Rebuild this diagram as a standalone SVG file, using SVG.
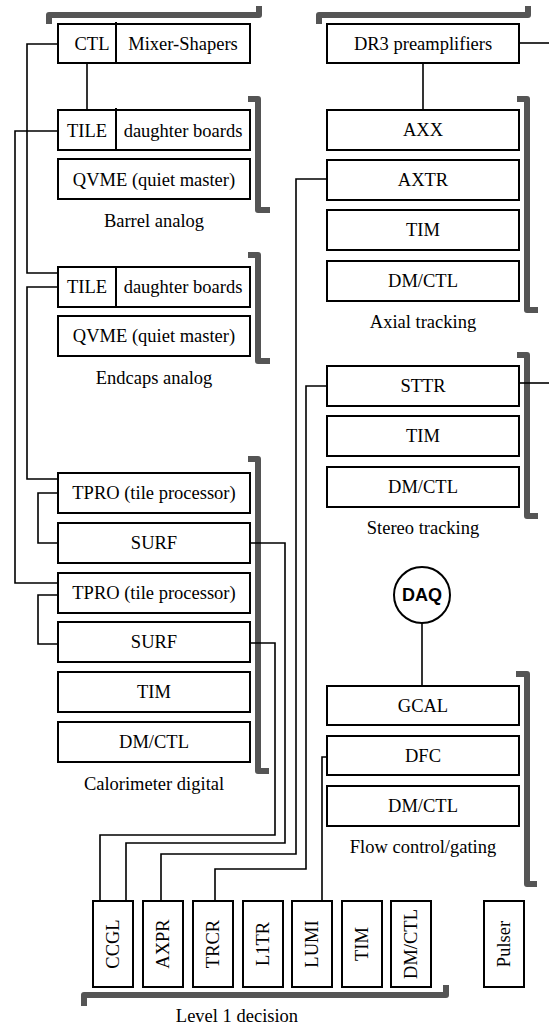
<svg xmlns="http://www.w3.org/2000/svg" width="549" height="1028" viewBox="0 0 549 1028">
<style>
.b{fill:#fff;stroke:#000;stroke-width:2}
.d{stroke:#000;stroke-width:2}
.t{font-family:"Liberation Serif","Times New Roman",serif;font-size:18.5px;fill:#000;text-anchor:middle}
.c{fill:none;stroke:#000;stroke-width:1.6}
.k{fill:none;stroke:#555;stroke-width:6;stroke-linejoin:round}
.q{font-family:"Liberation Sans",Arial,sans-serif;font-size:18px;font-weight:bold;fill:#000;text-anchor:middle}
</style>
<rect width="549" height="1028" fill="#fff"/>
<g id="brackets">
<polyline class="k" points="49,24 49,15 259,15 259,6"/>
<polyline class="k" points="319,24 319,15 528,15 528,6"/>
<polyline class="k" points="248,99 258,99 258,210 270,210"/>
<polyline class="k" points="248,255 258,255 258,361 270,361"/>
<polyline class="k" points="248,459 258,459 258,771 269,771"/>
<polyline class="k" points="517,99 527,99 527,310 538,310"/>
<polyline class="k" points="517,355 527,355 527,516 538,516"/>
<polyline class="k" points="516,674 527,674 527,884 537,884"/>
<polyline class="k" points="84,1006 84,995 446,995 446,985"/>
</g>
<g id="connectors">
<polyline class="c" points="58,44 27,44 27,273 58,273"/>
<polyline class="c" points="58,131 15,131 15,583 58,583"/>
<polyline class="c" points="58,287 27,287 27,479 58,479"/>
<polyline class="c" points="58,493 38,493 38,543 58,543"/>
<polyline class="c" points="58,595 38,595 38,644 58,644"/>
<line class="c" x1="87" y1="63" x2="87" y2="110"/>
<line class="c" x1="423" y1="63" x2="423" y2="110"/>
<line class="c" x1="519" y1="43" x2="549" y2="43"/>
<line class="c" x1="519" y1="383" x2="549" y2="383"/>
<line class="c" x1="422" y1="623" x2="422" y2="686"/>
<polyline class="c" points="250,643 275,643 275,835 100,835 100,901"/>
<polyline class="c" points="250,543 285,543 285,843 126,843 126,901"/>
<polyline class="c" points="327,179 296,179 296,854 161,854 161,901"/>
<polyline class="c" points="327,386 306,386 306,869 215,869 215,901"/>
<polyline class="c" points="327,757 322,757 322,901"/>
</g>
<g id="ctl-mixer"><rect class="b" x="58" y="24" width="192" height="39"/><line class="d" x1="116" y1="22" x2="116" y2="63"/><text class="t" x="92" y="50">CTL</text><text class="t" x="183" y="50">Mixer-Shapers</text></g>
<g id="barrel-tile"><rect class="b" x="58" y="110" width="192" height="40"/><line class="d" x1="116" y1="108" x2="116" y2="150"/><text class="t" x="87" y="137">TILE</text><text class="t" x="183" y="137">daughter boards</text></g>
<g id="barrel-qvme"><rect class="b" x="58" y="159" width="192" height="40"/><text class="t" x="154" y="186">QVME (quiet master)</text></g>
<g id="barrel-label"><text class="t" x="154" y="227">Barrel analog</text></g>
<g id="endcap-tile"><rect class="b" x="58" y="267" width="192" height="40"/><line class="d" x1="116" y1="267" x2="116" y2="307"/><text class="t" x="87" y="293">TILE</text><text class="t" x="183" y="293">daughter boards</text></g>
<g id="endcap-qvme"><rect class="b" x="58" y="316" width="192" height="40"/><text class="t" x="154" y="342">QVME (quiet master)</text></g>
<g id="endcap-label"><text class="t" x="154" y="384">Endcaps analog</text></g>
<g id="tpro1"><rect class="b" x="58" y="473" width="192" height="40"/><text class="t" x="154" y="499">TPRO (tile processor)</text></g>
<g id="surf1"><rect class="b" x="58" y="523" width="192" height="40"/><text class="t" x="154" y="549">SURF</text></g>
<g id="tpro2"><rect class="b" x="58" y="573" width="192" height="40"/><text class="t" x="154" y="599">TPRO (tile processor)</text></g>
<g id="surf2"><rect class="b" x="58" y="622" width="192" height="40"/><text class="t" x="154" y="648">SURF</text></g>
<g id="cal-tim"><rect class="b" x="58" y="672" width="192" height="40"/><text class="t" x="154" y="698">TIM</text></g>
<g id="cal-dmctl"><rect class="b" x="58" y="722" width="192" height="40"/><text class="t" x="154" y="748">DM/CTL</text></g>
<g id="cal-label"><text class="t" x="154" y="790">Calorimeter digital</text></g>
<g id="dr3"><rect class="b" x="327" y="24" width="192" height="39"/><text class="t" x="423" y="50">DR3 preamplifiers</text></g>
<g id="axx"><rect class="b" x="327" y="110" width="192" height="40"/><text class="t" x="423" y="136">AXX</text></g>
<g id="axtr"><rect class="b" x="327" y="160" width="192" height="40"/><text class="t" x="423" y="186">AXTR</text></g>
<g id="ax-tim"><rect class="b" x="327" y="210" width="192" height="40"/><text class="t" x="423" y="236">TIM</text></g>
<g id="ax-dmctl"><rect class="b" x="327" y="261" width="192" height="40"/><text class="t" x="423" y="287">DM/CTL</text></g>
<g id="ax-label"><text class="t" x="423" y="328">Axial tracking</text></g>
<g id="sttr"><rect class="b" x="327" y="366" width="192" height="40"/><text class="t" x="423" y="392">STTR</text></g>
<g id="st-tim"><rect class="b" x="327" y="416" width="192" height="40"/><text class="t" x="423" y="442">TIM</text></g>
<g id="st-dmctl"><rect class="b" x="327" y="467" width="192" height="40"/><text class="t" x="423" y="493">DM/CTL</text></g>
<g id="st-label"><text class="t" x="423" y="534">Stereo tracking</text></g>
<g id="daq"><circle cx="422" cy="595" r="28" fill="#fff" stroke="#000" stroke-width="2"/><text class="q" x="422" y="601">DAQ</text></g>
<g id="gcal"><rect class="b" x="327" y="686" width="192" height="39"/><text class="t" x="423" y="712">GCAL</text></g>
<g id="dfc"><rect class="b" x="327" y="736" width="192" height="39"/><text class="t" x="423" y="762">DFC</text></g>
<g id="fc-dmctl"><rect class="b" x="327" y="786" width="192" height="40"/><text class="t" x="423" y="812">DM/CTL</text></g>
<g id="fc-label"><text class="t" x="423" y="853">Flow control/gating</text></g>
<g id="ccgl"><rect class="b" x="93" y="901" width="40" height="86"/><text class="t" transform="rotate(-90 113 944)" x="113" y="950">CCGL</text></g>
<g id="axpr"><rect class="b" x="143" y="901" width="40" height="86"/><text class="t" transform="rotate(-90 163 944)" x="163" y="950">AXPR</text></g>
<g id="trcr"><rect class="b" x="193" y="901" width="40" height="86"/><text class="t" transform="rotate(-90 213 944)" x="213" y="950">TRCR</text></g>
<g id="l1tr"><rect class="b" x="243" y="901" width="40" height="86"/><text class="t" transform="rotate(-90 263 944)" x="263" y="950">L1TR</text></g>
<g id="lumi"><rect class="b" x="292" y="901" width="40" height="86"/><text class="t" transform="rotate(-90 312 944)" x="312" y="950">LUMI</text></g>
<g id="l1-tim"><rect class="b" x="342" y="901" width="40" height="86"/><text class="t" transform="rotate(-90 362 944)" x="362" y="950">TIM</text></g>
<g id="l1-dmctl"><rect class="b" x="391" y="901" width="40" height="86"/><text class="t" transform="rotate(-90 411 944)" x="411" y="950">DM/CTL</text></g>
<g id="pulser"><rect class="b" x="484" y="901" width="40" height="86"/><text class="t" transform="rotate(-90 504 944)" x="504" y="950">Pulser</text></g>
<g id="l1-label"><text class="t" x="237" y="1022">Level 1 decision</text></g>
</svg>
